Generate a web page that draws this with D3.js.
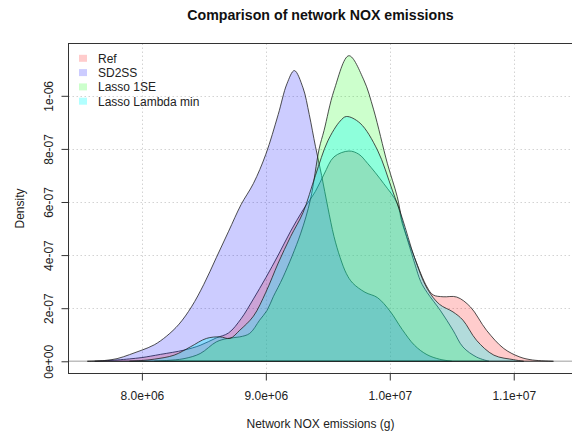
<!DOCTYPE html>
<html><head><meta charset="utf-8">
<script src="https://cdn.jsdelivr.net/npm/d3@7"></script>
<style>body{margin:0;background:#fff}svg{display:block;font-family:"Liberation Sans",Arial,sans-serif}</style>
</head><body>
<svg id="c" width="572" height="434"></svg>
<script>
// ---- data (x in g, density) ----
const refX = [7.62e6,7.8e6,7.9e6,8.0e6,8.15e6,8.34e6,8.47e6,8.6e6,8.7e6,8.8e6,8.9e6,9.0e6,9.1e6,9.2e6,9.3e6,9.4e6,9.47e6,9.55e6,9.67e6,9.75e6,9.82e6,9.95e6,10.06e6,10.1e6,10.2e6,10.3e6,10.35e6,10.43e6,10.54e6,10.65e6,10.78e6,10.92e6,11.05e6,11.15e6,11.32e6];
const refY = [0,0.05e-7,0.09e-7,0.14e-7,0.26e-7,0.42e-7,0.6e-7,0.88e-7,1.07e-7,1.6e-7,2.35e-7,3.15e-7,4.0e-7,4.9e-7,5.7e-7,6.4e-7,7.05e-7,7.7e-7,7.92e-7,7.8e-7,7.46e-7,6.7e-7,5.95e-7,5.2e-7,3.9e-7,2.8e-7,2.5e-7,2.43e-7,2.42e-7,2.05e-7,1.17e-7,0.48e-7,0.16e-7,0.05e-7,0];

const sd2ssX = [7.56e6,7.7e6,7.8e6,7.9e6,8.0e6,8.1e6,8.2e6,8.3e6,8.4e6,8.5e6,8.6e6,8.7e6,8.8e6,8.9e6,9.0e6,9.1e6,9.17e6,9.23e6,9.3e6,9.35e6,9.4e6,9.45e6,9.5e6,9.55e6,9.6e6,9.65e6,9.7e6,9.8e6,9.9e6,10.0e6,10.1e6,10.2e6,10.3e6,10.4e6,10.5e6];
const sd2ssY = [0,0.03e-7,0.1e-7,0.25e-7,0.42e-7,0.62e-7,0.95e-7,1.4e-7,2.05e-7,2.9e-7,3.9e-7,4.9e-7,5.9e-7,6.7e-7,7.8e-7,9.3e-7,10.45e-7,10.95e-7,10.3e-7,9.3e-7,8.1e-7,7.0e-7,5.8e-7,4.7e-7,3.9e-7,3.3e-7,2.95e-7,2.6e-7,2.4e-7,1.9e-7,1.2e-7,0.6e-7,0.25e-7,0.08e-7,0];

const se1X = [8.1e6,8.2e6,8.34e6,8.47e6,8.6e6,8.69e6,8.79e6,8.87e6,8.95e6,9.01e6,9.06e6,9.14e6,9.28e6,9.36e6,9.43e6,9.47e6,9.55e6,9.67e6,9.79e6,9.87e6,9.98e6,10.06e6,10.1e6,10.2e6,10.25e6,10.3e6,10.41e6,10.51e6,10.59e6,10.7e6,10.8e6];
const se1Y = [0,0.03e-7,0.1e-7,0.29e-7,0.73e-7,0.86e-7,0.92e-7,1.05e-7,1.55e-7,1.92e-7,2.43e-7,3.18e-7,4.8e-7,6.1e-7,8.0e-7,8.7e-7,10.2e-7,11.51e-7,10.6e-7,9.47e-7,7.46e-7,6.2e-7,5.3e-7,3.7e-7,3.0e-7,2.6e-7,1.9e-7,1.17e-7,0.54e-7,0.16e-7,0];

const lminX = [7.9e6,8.0e6,8.1e6,8.26e6,8.39e6,8.52e6,8.63e6,8.71e6,8.79e6,8.9e6,9.0e6,9.1e6,9.2e6,9.3e6,9.4e6,9.5e6,9.6e6,9.65e6,9.76e6,9.9e6,10.02e6,10.1e6,10.2e6,10.3e6,10.4e6,10.51e6,10.59e6,10.7e6,10.84e6,11.0e6,11.08e6];
const lminY = [0,0.03e-7,0.08e-7,0.23e-7,0.54e-7,0.86e-7,0.92e-7,0.86e-7,1.17e-7,1.7e-7,2.6e-7,3.7e-7,4.7e-7,5.6e-7,7.0e-7,8.3e-7,9.05e-7,9.22e-7,8.97e-7,7.96e-7,6.45e-7,5.4e-7,3.9e-7,2.75e-7,2.15e-7,1.86e-7,1.55e-7,0.79e-7,0.23e-7,0.06e-7,0];

const seriesNames = ["Ref","SD2SS","Lasso 1SE","Lasso Lambda min"];
const seriesColors = ["rgba(255,0,0,0.2)","rgba(0,0,255,0.2)","rgba(0,255,0,0.2)","rgba(0,255,255,0.3)"];
const xTicks = [8e6,9e6,1e7,1.1e7];
const xTickLabels = ["8.0e+06","9.0e+06","1.0e+07","1.1e+07"];
const yTicks = [0,2e-7,4e-7,6e-7,8e-7,1e-6];
const yTickLabels = ["0e+00","2e-07","4e-07","6e-07","8e-07","1e-06"];
const titleText = "Comparison of network NOX emissions";
const xTitle = "Network NOX emissions (g)";
const yTitle = "Density";

// ---- drawing ----
const svg = d3.select("#c");
const L = 68.5, R = 572.5, T = 43.5, B = 373.5;
const x = d3.scaleLinear().domain([7.408e6, 11.474e6]).range([L, R]);
const y = d3.scaleLinear().domain([-0.046e-6, 1.197e-6]).range([B, T]);

const series = [[refX,refY],[sd2ssX,sd2ssY],[se1X,se1Y],[lminX,lminY]].map((s,i)=>({
  name: seriesNames[i], color: seriesColors[i],
  pts: s[0].map((v,j)=>[v, s[1][j]])
}));

// grid
const grid = svg.append("g").attr("stroke","#d3d3d3").attr("stroke-dasharray","1.5,2.5").attr("stroke-width",1);
xTicks.forEach(t=>grid.append("line").attr("x1",Math.round(x(t))+0.5).attr("x2",Math.round(x(t))+0.5).attr("y1",T).attr("y2",B));
yTicks.forEach(t=>grid.append("line").attr("y1",Math.round(y(t))+0.5).attr("y2",Math.round(y(t))+0.5).attr("x1",L).attr("x2",R));

// zero line
svg.append("line").attr("x1",L).attr("x2",R).attr("y1",y(0)).attr("y2",y(0)).attr("stroke","#bebebe").attr("stroke-width",1.5);

// polygons
const line = d3.line().x(d=>x(d[0])).y(d=>y(d[1])).curve(d3.curveCatmullRom.alpha(0.5));
series.forEach(s=>{
  svg.append("path").attr("d", line(s.pts)+"Z")
    .attr("fill", s.color).attr("stroke","#222").attr("stroke-width",0.8).attr("stroke-linejoin","round");
});

// box
svg.append("rect").attr("x",L).attr("y",T).attr("width",R-L).attr("height",B-T).attr("fill","none").attr("stroke","#333").attr("stroke-width",1);

// axes
const xa = svg.append("g").attr("transform",`translate(0,${B})`)
  .call(d3.axisBottom(x).tickValues(xTicks).tickFormat((d,i)=>xTickLabels[i]).tickSize(7).tickPadding(10.5));
const ya = svg.append("g").attr("transform",`translate(${L},0)`)
  .call(d3.axisLeft(y).tickValues(yTicks).tickFormat((d,i)=>yTickLabels[i]).tickSize(7));
[xa,ya].forEach(a=>{
  a.select(".domain").remove();
  a.selectAll(".tick line").attr("stroke","#333");
  a.selectAll("text").attr("font-size",12).attr("fill","#222").attr("font-family","Liberation Sans, Arial, sans-serif");
});
ya.selectAll("text").attr("x",null).attr("dy",null).attr("text-anchor","middle").attr("transform","translate(-16,0) rotate(-90)");

// titles
svg.append("text").attr("x",(L+R)/2).attr("y",20).attr("text-anchor","middle").attr("font-weight","bold").attr("font-size",14.2).attr("fill","#111").text(titleText);
svg.append("text").attr("x",(L+R)/2).attr("y",428).attr("text-anchor","middle").attr("font-size",12).attr("fill","#222").text(xTitle);
svg.append("text").attr("transform",`translate(23.5,${(T+B)/2}) rotate(-90)`).attr("text-anchor","middle").attr("font-size",12).attr("fill","#222").text(yTitle);

// legend
const lg = svg.append("g");
seriesNames.forEach((n,i)=>{
  const cy = 58.3 + i*14.3;
  lg.append("rect").attr("x",79).attr("y",cy-3.5).attr("width",8).attr("height",7).attr("fill",seriesColors[i]);
  lg.append("text").attr("x",98).attr("y",cy+4.3).attr("font-size",12).attr("fill","#222").text(n);
});
</script>
</body></html>
